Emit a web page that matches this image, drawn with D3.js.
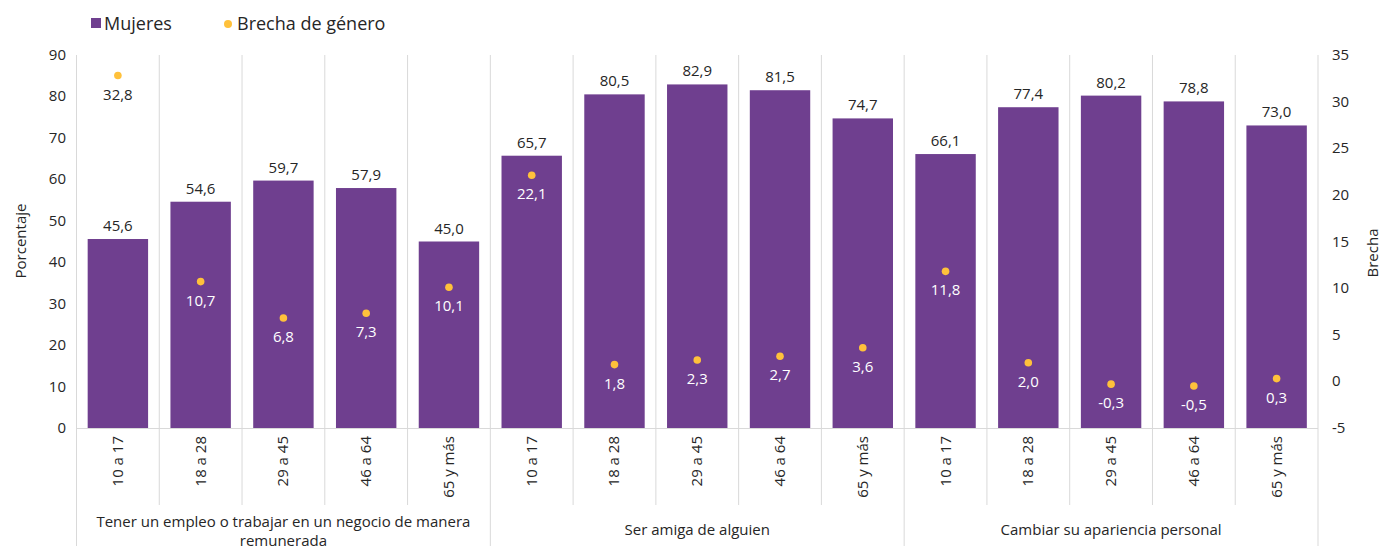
<html>
<head>
<meta charset="utf-8">
<title>Mujeres y brecha de género</title>
<style>
  body { margin: 0; background: #fff; }
  svg text { font-family: "Open Sans", "Noto Sans", sans-serif; fill: #262626; }
</style>
</head>
<body>
<script src="https://d3js.org/d3.v7.min.js"></script>
<script>
 // datos
 var edades = ["10 a 17", "18 a 28", "29 a 45", "46 a 64", "65 y más"];
 var grupos = ["Tener un empleo o trabajar en un negocio de manera remunerada",
               "Ser amiga de alguien",
               "Cambiar su apariencia personal"];
 var mujeres = [45.6, 54.6, 59.7, 57.9, 45.0,
                65.7, 80.5, 82.9, 81.5, 74.7,
                66.1, 77.4, 80.2, 78.8, 73.0];
 var brecha = [32.8, 10.7, 6.8, 7.3, 10.1,
               22.1, 1.8, 2.3, 2.7, 3.6,
               11.8, 2.0, -0.3, -0.5, 0.3];
 var ticksIzq = [0, 10, 20, 30, 40, 50, 60, 70, 80, 90];
 var ticksDer = [-5, 0, 5, 10, 15, 20, 25, 30, 35];

 var morado = "#6f3f8f";
 var amarillo = "#ffc13b";
 var gris = "#d9d9d9";

 var W = 1382, H = 546;
 var mIzq = 76.5, mDer = 1318, mSup = 55, mInf = 428;

 var filas = [];
 grupos.forEach(function(g, gi) {
     edades.forEach(function(e, ei) {
         var i = gi * edades.length + ei;
         filas.push({ id: i, grupo: g, edad: e, m: mujeres[i], b: brecha[i] });
     });
 });

 var svg = d3.select("body").append("svg")
     .attr("width", W).attr("height", H);

 var x = d3.scaleBand().domain(d3.range(filas.length))
     .range([mIzq, mDer]).paddingInner(0.27).paddingOuter(0.135);
 var xc = d3.scaleBand().domain(d3.range(filas.length)).range([mIzq, mDer]);
 var y = d3.scaleLinear().domain([0, 90]).range([mInf, mSup]);
 var y2 = d3.scaleLinear().domain([-5, 35]).range([mInf, mSup]);

 function centro(d) { return xc(d.id) + xc.bandwidth() / 2; }
 function coma(v) { return d3.format(".1f")(v).replace(".", ",").replace("−", "-"); }

 // lineas verticales entre categorias
 var cortes = d3.range(filas.length + 1);
 svg.selectAll("line.sep").data(cortes).enter().append("line")
    .attr("class", "sep")
    .attr("x1", function(d) { return d < filas.length ? xc(d) : mDer; })
    .attr("x2", function(d) { return d < filas.length ? xc(d) : mDer; })
    .attr("y1", mSup)
    .attr("y2", function(d) { return d % edades.length == 0 ? H : 505; })
    .attr("stroke", gris).attr("stroke-width", 1);

 // eje inferior
 svg.append("line").attr("x1", mIzq).attr("x2", mDer)
    .attr("y1", mInf + 0.5).attr("y2", mInf + 0.5)
    .attr("stroke", gris);

 // barras
 svg.selectAll("rect.bar").data(filas).enter().append("rect")
    .attr("class", "bar")
    .attr("x", function(d) { return x(d.id); })
    .attr("width", x.bandwidth())
    .attr("y", function(d) { return y(d.m); })
    .attr("height", function(d) { return mInf - y(d.m); })
    .attr("fill", morado);

 svg.selectAll("text.vm").data(filas).enter().append("text")
    .attr("class", "vm")
    .attr("x", centro)
    .attr("y", function(d) { return y(d.m) - 8; })
    .attr("text-anchor", "middle").attr("font-size", 15)
    .text(function(d) { return coma(d.m); });

 // puntos de brecha
 svg.selectAll("circle.pt").data(filas).enter().append("circle")
    .attr("class", "pt")
    .attr("cx", centro)
    .attr("cy", function(d) { return y2(d.b); })
    .attr("r", 3.8)
    .attr("fill", amarillo);

 svg.selectAll("text.vb").data(filas).enter().append("text")
    .attr("class", "vb")
    .attr("x", centro)
    .attr("y", function(d) { return y2(d.b) + 24; })
    .attr("text-anchor", "middle").attr("font-size", 15)
    .style("fill", function(d) { return y2(d.b) > y(d.m) ? "#ffffff" : "#262626"; })
    .text(function(d) { return coma(d.b); });

 // ejes y
 svg.selectAll("text.ti").data(ticksIzq).enter().append("text")
    .attr("x", 66).attr("y", function(d) { return y(d) + 5; })
    .attr("text-anchor", "end").attr("font-size", 15)
    .text(function(d) { return d; });

 svg.selectAll("text.td").data(ticksDer).enter().append("text")
    .attr("x", 1332).attr("y", function(d) { return y2(d) + 5; })
    .attr("text-anchor", "start").attr("font-size", 15)
    .text(function(d) { return d; });

 svg.append("text").attr("transform", "translate(26,241) rotate(-90)")
    .attr("text-anchor", "middle").attr("font-size", 15).text("Porcentaje");
 svg.append("text").attr("transform", "translate(1378,253) rotate(-90)")
    .attr("text-anchor", "middle").attr("font-size", 15).text("Brecha");

 // etiquetas de edad
 svg.selectAll("text.ed").data(filas).enter().append("text")
    .attr("transform", function(d) {
        return "translate(" + (centro(d) + 5) + "," + 436 + ") rotate(-90)";
    })
    .attr("text-anchor", "end").attr("font-size", 15)
    .text(function(d) { return d.edad; });

 // etiquetas de grupo
 var gw = xc.bandwidth() * edades.length;
 grupos.forEach(function(g, gi) {
     var cx = mIzq + gw * gi + gw / 2;
     var t = svg.append("text").attr("text-anchor", "middle").attr("font-size", 15);
     if (gi == 0) {
         t.append("tspan").attr("x", cx).attr("y", 527).text("Tener un empleo o trabajar en un negocio de manera");
         t.append("tspan").attr("x", cx).attr("y", 546).text("remunerada");
     } else {
         t.attr("x", cx).attr("y", 535).text(g);
     }
 });

 // leyenda
 svg.append("rect").attr("x", 91).attr("y", 18).attr("width", 10).attr("height", 10).attr("fill", morado);
 svg.append("text").attr("x", 104).attr("y", 30).attr("font-size", 18).text("Mujeres");
 svg.append("circle").attr("cx", 228).attr("cy", 24).attr("r", 4).attr("fill", amarillo);
 svg.append("text").attr("x", 237).attr("y", 30).attr("font-size", 18).text("Brecha de género");
</script>
</body>
</html>
